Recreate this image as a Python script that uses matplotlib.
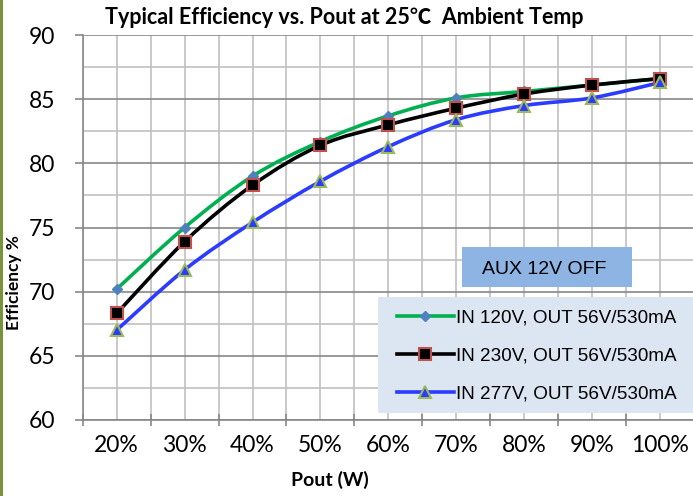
import numpy as np
import matplotlib
matplotlib.use("Agg")
import matplotlib.pyplot as plt
from matplotlib.path import Path
from matplotlib.patches import PathPatch, Rectangle
from matplotlib.lines import Line2D

# data
loads = ["20%", "30%", "40%", "50%", "60%", "70%", "80%", "90%", "100%"]
eff_120v = [70.2, 75.0, 79.0, 81.7, 83.7, 85.1, 85.6, 86.1, 86.6]
eff_230v = [68.3, 73.9, 78.3, 81.4, 83.0, 84.3, 85.4, 86.1, 86.6]
eff_277v = [67.0, 71.7, 75.4, 78.6, 81.3, 83.4, 84.5, 85.1, 86.3]
labels = ["IN 120V, OUT 56V/530mA", "IN 230V, OUT 56V/530mA", "IN 277V, OUT 56V/530mA"]

W, H = 693, 496
cal = ["Lato", "Noto Sans CJK SC", "DejaVu Sans"]
arial = ["Liberation Sans", "DejaVu Sans"]


def smooth_path(xs, ys):
    # excel-like smoothed line: catmull-rom segments as cubic beziers
    pts = np.column_stack([xs, ys]).astype(float)
    verts = [pts[0]]
    codes = [Path.MOVETO]
    n = len(pts)
    for i in range(n - 1):
        p0 = pts[max(i - 1, 0)]
        p1 = pts[i]
        p2 = pts[i + 1]
        p3 = pts[min(i + 2, n - 1)]
        c1 = p1 + (p2 - p0) / 6.0
        c2 = p2 - (p3 - p1) / 6.0
        verts += [c1, c2, p2]
        codes += [Path.CURVE4] * 3
    return Path(verts, codes)


fig = plt.figure(figsize=(W / 100, H / 100), dpi=100)
ax = fig.add_axes([82.7 / W, (H - 420) / H, (694 - 82.7) / W, 385 / H])

x = np.arange(1, len(loads) + 1)
series = [
    (eff_120v, "#00b050", dict(marker="D", ms=5, mfc="#4f81bd", mec="#4f81bd")),
    (eff_230v, "#000000", dict(marker="s", ms=8, mfc="#000000", mec="#c0504d", mew=1.5)),
    (eff_277v, "#2b3bff", dict(marker="^", ms=8, mfc="#2b3bff", mec="#9bbb59", mew=1.5)),
]
handles = []
for (vals, col, mk), lab in zip(series, labels):
    ax.add_patch(PathPatch(smooth_path(x, vals), fill=False, edgecolor=col,
                           lw=2.6, zorder=3, capstyle="round"))
    ax.plot(x, vals, linestyle="none", zorder=4, **mk)
    handles.append(Line2D([], [], color=col, lw=2.6, **mk))

ax.set_xlim(0.5, 9.5)
ax.set_ylim(60, 90)
ax.set_xticks(x)
ax.set_xticklabels(loads)
ax.set_xticks(np.arange(0.5, 10, 1), minor=True)
ax.set_yticks(np.arange(60, 91, 5))
ax.set_yticks(np.arange(62.5, 90, 5), minor=True)

ax.grid(True, which="major", axis="y", color="#878787", lw=1.2)
ax.grid(True, which="minor", axis="y", color="#c0c0c0", lw=1.2)
ax.grid(True, which="both", axis="x", color="#c0c0c0", lw=1.2)
ax.set_axisbelow(True)

for s in ["top", "right"]:
    ax.spines[s].set_visible(False)
for s in ["left", "bottom"]:
    ax.spines[s].set_color("#878787")
    ax.spines[s].set_linewidth(1.2)

ax.tick_params(axis="x", which="major", length=0, pad=11, labelsize=16.5)
ax.tick_params(axis="x", which="minor", length=8, direction="inout", color="#878787", width=1.2)
ax.tick_params(axis="y", which="major", length=6, color="#878787", width=1.2, pad=14, labelsize=16.5)
ax.tick_params(axis="y", which="minor", length=0)
for t in ax.get_xticklabels() + ax.get_yticklabels():
    t.set_family(cal)

fig.text(344 / W, 1 - 17 / H, "Typical Efficiency vs. Pout at 25\u2103  Ambient Temp",
         ha="center", va="center", fontsize=15.5, fontweight="bold", family=cal)
fig.text(330 / W, 1 - 480 / H, "Pout (W)", ha="center", va="center",
         fontsize=14, fontweight="bold", family=cal)
fig.text(14 / W, 1 - 283 / H, "Efficiency %", ha="center", va="center",
         rotation=90, fontsize=12.5, fontweight="bold", family=cal)

# AUX label box
fig.patches.append(Rectangle((462 / W, 1 - 287 / H), 170 / W, 40 / H,
                             transform=fig.transFigure, facecolor="#8db4e2",
                             edgecolor="none", zorder=5))
fig.text(544 / W, 1 - 269 / H, "AUX 12V OFF", ha="center", va="center",
         fontsize=14, family=arial, zorder=6)

# legend box
fig.patches.append(Rectangle((378 / W, 1 - 413 / H), 316 / W, 116 / H,
                             transform=fig.transFigure, facecolor="#dce6f2",
                             edgecolor="none", zorder=5))
leg = fig.legend(handles, labels, loc="upper left",
                 bbox_to_anchor=(397 / W, 1 - 309 / H), frameon=False,
                 prop={"family": arial, "size": 13.6}, handlelength=3.0,
                 handletextpad=0.1, labelspacing=1.1, borderpad=0,
                 borderaxespad=0)
leg.set_zorder(6)

# green edge on left side
fig.patches.append(Rectangle((0, 0), 2.5 / W, 1, transform=fig.transFigure,
                             facecolor="#77933c", edgecolor="none", zorder=10))

fig.savefig("out.png", dpi=100)
